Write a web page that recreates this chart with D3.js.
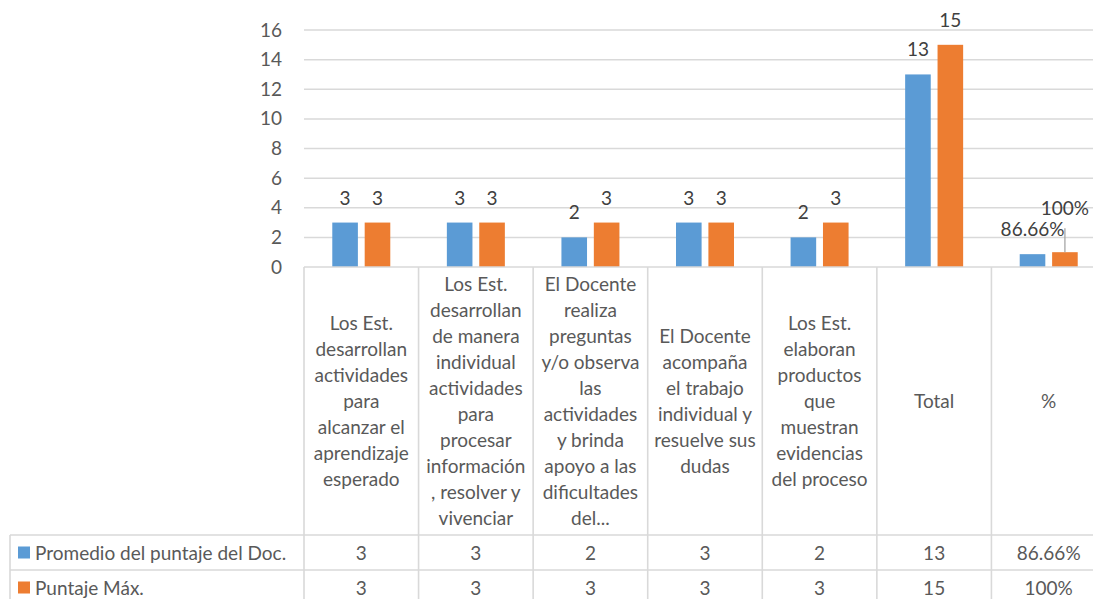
<!DOCTYPE html>
<html>
<head>
<meta charset="utf-8">
<script src="https://cdn.jsdelivr.net/npm/d3@7"></script>
<style>
  body { margin: 0; background: #fff; }
  svg text { font-family: Lato, "Open Sans", sans-serif; }
</style>
</head>
<body>
<div id="chart"></div>
<script>
// category labels, already broken into lines the way the chart shows them
const categories = [
  ["Los Est.", "desarrollan", "actividades", "para", "alcanzar el", "aprendizaje", "esperado"],
  ["Los Est.", "desarrollan", "de manera", "individual", "actividades", "para", "procesar", "información", ", resolver y", "vivenciar"],
  ["El Docente", "realiza", "preguntas", "y/o observa", "las", "actividades", "y brinda", "apoyo a las", "dificultades", "del..."],
  ["El Docente", "acompaña", "el trabajo", "individual y", "resuelve sus", "dudas"],
  ["Los Est.", "elaboran", "productos", "que", "muestran", "evidencias", "del proceso"],
  ["Total"],
  ["%"]
];
const seriesNames = ["Promedio del puntaje del Doc.", "Puntaje Máx."];
const promedio = [3, 3, 2, 3, 2, 13, 0.8666];
const puntajeMax = [3, 3, 3, 3, 3, 15, 1];
const yTicks = [0, 2, 4, 6, 8, 10, 12, 14, 16];

const COLORS = ["#5b9bd5", "#ed7d31"];
const W = 1093, H = 599;
const FS = "19px";

// plot area and table geometry
const plot = {left: 304, right: 1106, top: 30, bottom: 267};
const headerBottom = 535;
const rowH = 35;
const legendLeft = 10;

const allSeries = [promedio, puntajeMax];

// format for labels: last category is a percentage
function fmt(v, i) {
  if (i === categories.length - 1) return (+(v * 100).toFixed(2)) + "%";
  return String(v);
}

const svg = d3.select("#chart")
  .append("svg")
  .attr("width", W)
  .attr("height", H);

// SCALES
const idx = d3.range(categories.length);
const x0 = d3.scaleBand()
  .domain(idx)
  .range([plot.left, plot.right])
  .padding(0);

const x1 = d3.scaleBand()
  .domain([0, 1])
  .range([-29, 29])
  .paddingInner(0.21);

const y = d3.scaleLinear()
  .domain([0, 16])
  .range([plot.bottom, plot.top]);

// GRIDLINES
svg.append("g")
  .selectAll("line")
  .data(yTicks.filter(t => t > 0))
  .enter()
  .append("line")
  .attr("x1", plot.left)
  .attr("x2", plot.right)
  .attr("y1", d => y(d))
  .attr("y2", d => y(d))
  .attr("stroke", "#d9d9d9")
  .attr("stroke-width", 1.5);

// Y AXIS (labels only, like excel)
const yAxis = svg.append("g")
  .attr("transform", `translate(${plot.left - 22},0)`)
  .call(d3.axisLeft(y).tickValues(yTicks).tickSize(0).tickPadding(0));
yAxis.select(".domain").remove();
yAxis.selectAll("text")
  .attr("fill", "#595959")
  .style("font-size", FS)
  .style("font-family", "Lato, 'Open Sans', sans-serif");

// BARS
allSeries.forEach(function(vals, s) {
  svg.append("g")
    .selectAll("rect")
    .data(vals)
    .enter()
    .append("rect")
    .attr("x", (d, i) => x0(i) + x0.bandwidth() / 2 + x1(s))
    .attr("y", d => y(d))
    .attr("width", x1.bandwidth())
    .attr("height", d => y(0) - y(d))
    .attr("fill", COLORS[s]);
});

// DATA LABELS
const lastIdx = categories.length - 1;
allSeries.forEach(function(vals, s) {
  svg.append("g")
    .selectAll("text")
    .data(vals)
    .enter()
    .append("text")
    .attr("x", (d, i) => x0(i) + x0.bandwidth() / 2 + x1(s) + x1.bandwidth() / 2)
    .attr("y", (d, i) => y(d) - 18 - ((s === 1 && i === lastIdx) ? 19 : 0))
    .attr("text-anchor", "middle")
    .attr("fill", "#404040")
    .style("font-size", FS)
    .text((d, i) => fmt(d, i));
});

// leader line for the moved 100% label
const cxLast = x0(lastIdx) + x0.bandwidth() / 2 + x1(1) + x1.bandwidth() / 2;
svg.append("line")
  .attr("x1", cxLast)
  .attr("x2", cxLast)
  .attr("y1", y(puntajeMax[lastIdx]) - 24)
  .attr("y2", y(puntajeMax[lastIdx]))
  .attr("stroke", "#a6a6a6")
  .attr("stroke-width", 1.3);

// DATA TABLE
const grid = svg.append("g")
  .attr("stroke", "#d9d9d9")
  .attr("stroke-width", 1.6)
  .attr("fill", "none");

const tableBottom = headerBottom + rowH * 2;
// horizontal lines
grid.append("line").attr("x1", plot.left).attr("x2", plot.right).attr("y1", plot.bottom).attr("y2", plot.bottom);
[headerBottom, headerBottom + rowH, tableBottom].forEach(function(yy) {
  grid.append("line").attr("x1", legendLeft).attr("x2", plot.right).attr("y1", yy).attr("y2", yy);
});
// vertical lines
idx.concat([categories.length]).forEach(function(i) {
  const xx = i < categories.length ? x0(i) : plot.right;
  grid.append("line").attr("x1", xx).attr("x2", xx).attr("y1", plot.bottom).attr("y2", tableBottom);
});
grid.append("line").attr("x1", legendLeft).attr("x2", legendLeft).attr("y1", headerBottom).attr("y2", tableBottom);

// header text
const lineH = 26;
const headerMid = (plot.bottom + headerBottom) / 2;
categories.forEach(function(lines, i) {
  const t = svg.append("text")
    .attr("text-anchor", "middle")
    .attr("fill", "#595959")
    .style("font-size", FS);
  const y0 = headerMid - (lines.length - 1) * lineH / 2 + 7;
  lines.forEach(function(l, k) {
    t.append("tspan")
      .attr("x", x0(i) + x0.bandwidth() / 2)
      .attr("y", y0 + k * lineH)
      .text(l);
  });
});

// value rows with legend keys
allSeries.forEach(function(vals, s) {
  const cy = headerBottom + rowH * s + rowH / 2;
  svg.append("rect")
    .attr("x", 18)
    .attr("y", cy - 6)
    .attr("width", 12)
    .attr("height", 12)
    .attr("fill", COLORS[s]);
  svg.append("text")
    .attr("x", 35)
    .attr("y", cy + 7)
    .attr("fill", "#595959")
    .style("font-size", FS)
    .text(seriesNames[s]);
  svg.append("g")
    .selectAll("text")
    .data(vals)
    .enter()
    .append("text")
    .attr("x", (d, i) => x0(i) + x0.bandwidth() / 2)
    .attr("y", cy + 7)
    .attr("text-anchor", "middle")
    .attr("fill", "#595959")
    .style("font-size", FS)
    .text((d, i) => fmt(d, i));
});
</script>
</body>
</html>
